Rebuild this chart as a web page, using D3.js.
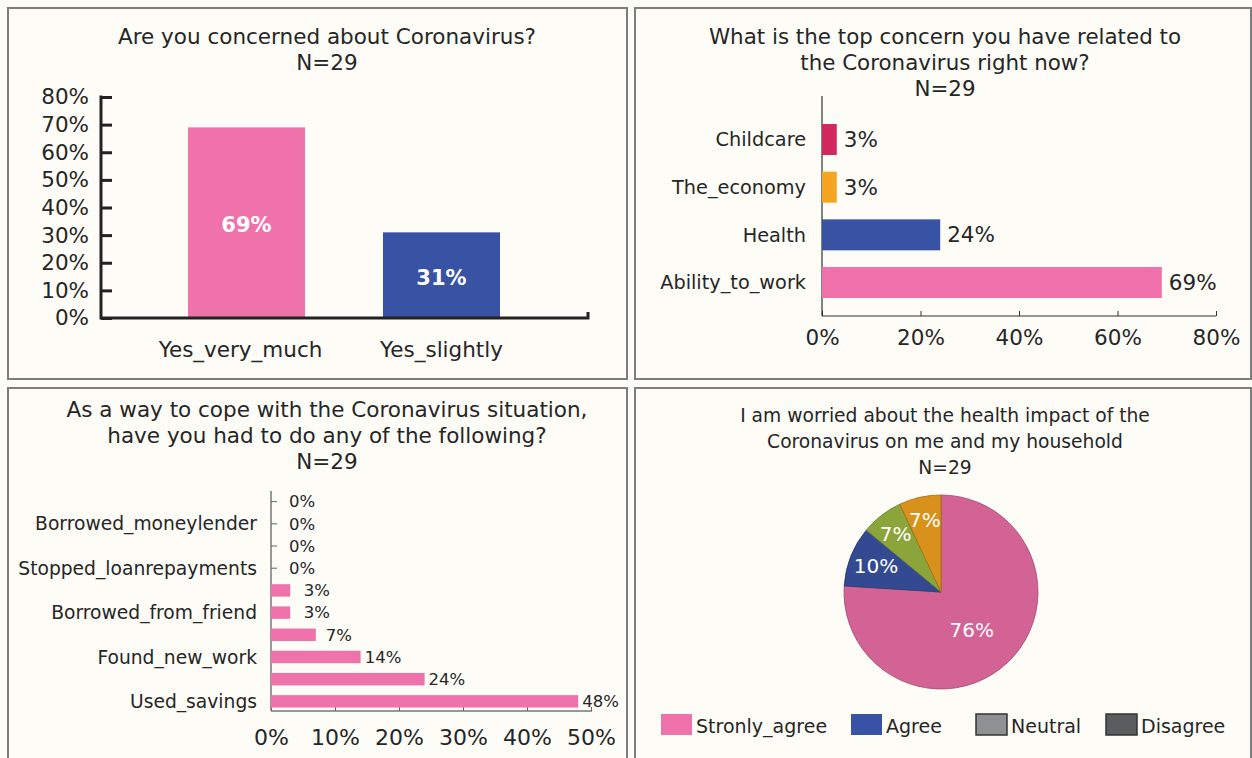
<!DOCTYPE html>
<html>
<head>
<meta charset="utf-8">
<script src="https://cdn.jsdelivr.net/npm/d3@7"></script>
<style>
  html, body { margin: 0; padding: 0; background: #fdfcf7; }
  svg { display: block; font-family: "DejaVu Sans", Verdana, sans-serif; }
  text { fill: #262626; }
</style>
</head>
<body>
<svg id="chart" width="1252" height="758"></svg>
<script>
// ---------------- DATA ----------------
// Panel 1: Are you concerned about Coronavirus?
const concernCategories = ["Yes_very_much", "Yes_slightly"];
const concernValues = [69, 31];
const concernTicks = [0, 10, 20, 30, 40, 50, 60, 70, 80];

// Panel 2: Top concern
const topCategories = ["Childcare", "The_economy", "Health", "Ability_to_work"];
const topValues = [3, 3, 24, 69];
const topTicks = [0, 20, 40, 60, 80];

// Panel 3: Coping actions (only every other category label is shown in the original)
const copeCategories = ["", "Borrowed_moneylender", "", "Stopped_loanrepayments", "",
                        "Borrowed_from_friend", "", "Found_new_work", "", "Used_savings"];
const copeValues = [0, 0, 0, 0, 3, 3, 7, 14, 24, 48];
const copeTicks = [0, 10, 20, 30, 40, 50];

// Panel 4: Worried about health impact
const worryCategories = ["Stronly_agree", "Agree", "Neutral", "Disagree"];
const worryValues = [76, 10, 7, 7];

// ---------------- STYLE ----------------
const pink = "#ef72ab", blue = "#3953a4", crimson = "#d4275e", orange = "#f5a51f";
const topColors = [crimson, orange, blue, pink];
const pieColors = ["#d36394", "#334a93", "#8ca53a", "#d8911b"];
const legendColors = [pink, blue, "#8f9094", "#5b5c5f"];
const legendStroke = [null, null, "#333", "#333"];
const textCol = "#262626";
const FF = "DejaVu Sans";
const fmt = v => v + "%";

const svg = d3.select("#chart");

// Panel frames
const panels = [
  {x: 8, y: 8, w: 619, h: 371},
  {x: 635, y: 8, w: 616, h: 371},
  {x: 8, y: 388, w: 619, h: 380},
  {x: 635, y: 388, w: 616, h: 380}
];
svg.selectAll("rect.frame").data(panels).join("rect")
  .attr("class", "frame")
  .attr("x", d => d.x).attr("y", d => d.y)
  .attr("width", d => d.w).attr("height", d => d.h)
  .attr("fill", "#fdfcf7").attr("stroke", "#7d7d7b").attr("stroke-width", 2);

function title(lines, cx, y0, dy, size) {
  svg.append("g").selectAll("text").data(lines).join("text")
    .attr("x", cx).attr("y", (d, i) => y0 + i * dy)
    .attr("text-anchor", "middle").attr("font-size", size)
    .text(d => d);
}

// ================= PANEL 1 =================
{
  title(["Are you concerned about Coronavirus?", "N=29"], 327, 44, 26, 21.5);
  const y = d3.scaleLinear().domain([0, 80]).range([318, 97]);
  const x = d3.scaleBand().domain(concernCategories).range([149, 539])
    .paddingInner(0.4).paddingOuter(0.2);
  const g = svg.append("g");
  const yAxis = d3.axisLeft(y).tickValues(concernTicks).tickFormat(fmt).tickSize(-11).tickPadding(12);
  const ga = g.append("g").attr("transform", "translate(101,0)").call(yAxis);
  ga.select(".domain").remove();
  ga.selectAll(".tick line").attr("stroke", "#222").attr("stroke-width", 3);
  ga.selectAll(".tick text").attr("font-size", 21.5).attr("font-family", FF).attr("fill", textCol);
  g.append("line").attr("x1", 101).attr("x2", 101).attr("y1", y(80) - 1.5).attr("y2", y(0) + 1.5)
    .attr("stroke", "#222").attr("stroke-width", 3);
  g.selectAll("rect.bar").data(concernCategories).join("rect")
    .attr("x", d => x(d)).attr("width", x.bandwidth())
    .attr("y", (d, i) => y(concernValues[i]))
    .attr("height", (d, i) => y(0) - y(concernValues[i]))
    .attr("fill", (d, i) => i === 0 ? pink : blue);
  g.append("path").attr("d", `M101,${y(0)}H588V${y(0) - 6}`)
    .attr("fill", "none").attr("stroke", "#222").attr("stroke-width", 3);
  g.selectAll("text.cat").data(concernCategories).join("text")
    .attr("x", d => x(d) + x.bandwidth() / 2 - (d === "Yes_very_much" ? 6 : 0))
    .attr("y", 357).attr("text-anchor", "middle").attr("font-size", 21.5).text(d => d);
  g.selectAll("text.val").data(concernCategories).join("text")
    .attr("x", d => x(d) + x.bandwidth() / 2)
    .attr("y", (d, i) => y(concernValues[i] / 2) + 2).attr("dy", "0.35em")
    .attr("text-anchor", "middle").attr("font-size", 21).attr("font-weight", "bold")
    .style("fill", "#fff").text((d, i) => fmt(concernValues[i]));
}

// ================= PANEL 2 =================
{
  title(["What is the top concern you have related to", "the Coronavirus right now?", "N=29"], 945, 44, 26, 21.4);
  const x = d3.scaleLinear().domain([0, 80]).range([822, 1216]);
  const y = d3.scaleBand().domain(topCategories).range([107.3, 314.7])
    .paddingInner(0.35).paddingOuter(0.35);
  const g = svg.append("g");
  const xAxis = d3.axisBottom(x).tickValues(topTicks).tickFormat(fmt).tickSize(-5).tickPadding(14);
  const ga = g.append("g").attr("transform", "translate(0,316)").call(xAxis);
  ga.select(".domain").remove();
  ga.selectAll(".tick line").attr("stroke", "#333").attr("stroke-width", 1);
  ga.selectAll(".tick text").attr("font-size", 21.5).attr("font-family", FF).attr("fill", textCol);
  g.append("line").attr("x1", 822).attr("x2", 1216).attr("y1", 316).attr("y2", 316).attr("stroke", "#333").attr("stroke-width", 1.2);
  g.append("line").attr("x1", 822).attr("x2", 822).attr("y1", 96).attr("y2", 316).attr("stroke", "#333").attr("stroke-width", 1.2);
  g.selectAll("rect.bar").data(topCategories).join("rect")
    .attr("x", x(0)).attr("y", d => y(d)).attr("height", y.bandwidth())
    .attr("width", (d, i) => x(topValues[i]) - x(0))
    .attr("fill", (d, i) => topColors[i]);
  g.selectAll("text.cat").data(topCategories).join("text")
    .attr("x", 806).attr("y", d => y(d) + y.bandwidth() / 2).attr("dy", "0.35em")
    .attr("text-anchor", "end").attr("font-size", 19.3).text(d => d);
  g.selectAll("text.val").data(topCategories).join("text")
    .attr("x", (d, i) => x(topValues[i]) + 7).attr("y", d => y(d) + y.bandwidth() / 2).attr("dy", "0.35em")
    .attr("font-size", 21.5).text((d, i) => fmt(topValues[i]));
}

// ================= PANEL 3 =================
{
  title(["As a way to cope with the Coronavirus situation,", "have you had to do any of the following?", "N=29"], 327, 417, 26, 21.5);
  const x = d3.scaleLinear().domain([0, 50]).range([271, 591]);
  const idx = d3.range(copeCategories.length);
  const y = d3.scaleBand().domain(idx).range([491, 712]).paddingInner(0.44).paddingOuter(0.2);
  const g = svg.append("g");
  const xAxis = d3.axisBottom(x).tickValues(copeTicks).tickFormat(fmt).tickSize(-4).tickPadding(18);
  const ga = g.append("g").attr("transform", "translate(0,711)").call(xAxis);
  ga.select(".domain").remove();
  ga.selectAll(".tick line").attr("stroke", "#666").attr("stroke-width", 1);
  ga.selectAll(".tick text").attr("font-size", 22).attr("font-family", FF).attr("fill", textCol);
  g.selectAll("line.ct").data(idx).join("line")
    .attr("x1", 271).attr("x2", 277)
    .attr("y1", d => y(d) + y.bandwidth() / 2).attr("y2", d => y(d) + y.bandwidth() / 2)
    .attr("stroke", "#666").attr("stroke-width", 1);
  g.append("line").attr("x1", 271).attr("x2", 592).attr("y1", 711).attr("y2", 711).attr("stroke", "#777").attr("stroke-width", 1.5);
  g.append("line").attr("x1", 271).attr("x2", 271).attr("y1", 491).attr("y2", 711).attr("stroke", "#777").attr("stroke-width", 1.5);
  g.selectAll("rect.bar").data(idx.filter(i => copeValues[i] > 0)).join("rect")
    .attr("x", x(0)).attr("y", d => y(d)).attr("height", y.bandwidth())
    .attr("width", d => x(copeValues[d]) - x(0)).attr("fill", pink);
  g.selectAll("text.cat").data(idx).join("text")
    .attr("x", 257).attr("y", d => y(d) + y.bandwidth() / 2).attr("dy", "0.35em")
    .attr("text-anchor", "end").attr("font-size", 18.7).text(d => copeCategories[d]);
  g.selectAll("text.val").data(idx).join("text")
    .attr("x", d => x(copeValues[d]) + (copeValues[d] === 0 ? 18 : Math.max(4, 16 - copeValues[d] * 0.85)))
    .attr("y", d => y(d) + y.bandwidth() / 2).attr("dy", "0.35em")
    .attr("font-size", 16.5).text(d => fmt(copeValues[d]));
}

// ================= PANEL 4 =================
{
  title(["I am worried about the health impact of the", "Coronavirus on me and my household", "N=29"], 945, 422, 26, 18.7);
  const cx = 941, cy = 592, r = 97;
  const pie = d3.pie().sort(null).value(d => d)(worryValues);
  const arc = d3.arc().innerRadius(0).outerRadius(r);
  const g = svg.append("g").attr("transform", `translate(${cx},${cy})`);
  g.selectAll("path").data(pie).join("path")
    .attr("d", arc).attr("fill", (d, i) => pieColors[i])
    .attr("stroke", (d, i) => d3.color(pieColors[i]).darker(0.8)).attr("stroke-width", 0.8);
  g.selectAll("text").data(pie).join("text")
    .attr("transform", d => {
      const span = d.endAngle - d.startAngle;
      const lr = span > 1.5 ? r * 0.5 : r * (0.86 - span * 0.22);
      const a = (d.startAngle + d.endAngle) / 2 + (span > 1.5 ? 0.07 : 0);
      return `translate(${Math.sin(a) * lr},${-Math.cos(a) * lr})`;
    })
    .attr("text-anchor", "middle").attr("dy", "0.35em").attr("font-size", 20)
    .style("fill", "#fff").text(d => fmt(d.data));
  const legX = [661, 851, 976, 1106];
  const lg = svg.append("g");
  const items = lg.selectAll("g").data(worryCategories).join("g")
    .attr("transform", (d, i) => `translate(${legX[i]},714)`);
  items.append("rect").attr("width", 31).attr("height", 21)
    .attr("fill", (d, i) => legendColors[i])
    .attr("stroke", (d, i) => legendStroke[i] || "none").attr("stroke-width", 1.5);
  items.append("text").attr("x", 35).attr("y", 18.5).attr("font-size", 19).text(d => d);
}
</script>
</body>
</html>
